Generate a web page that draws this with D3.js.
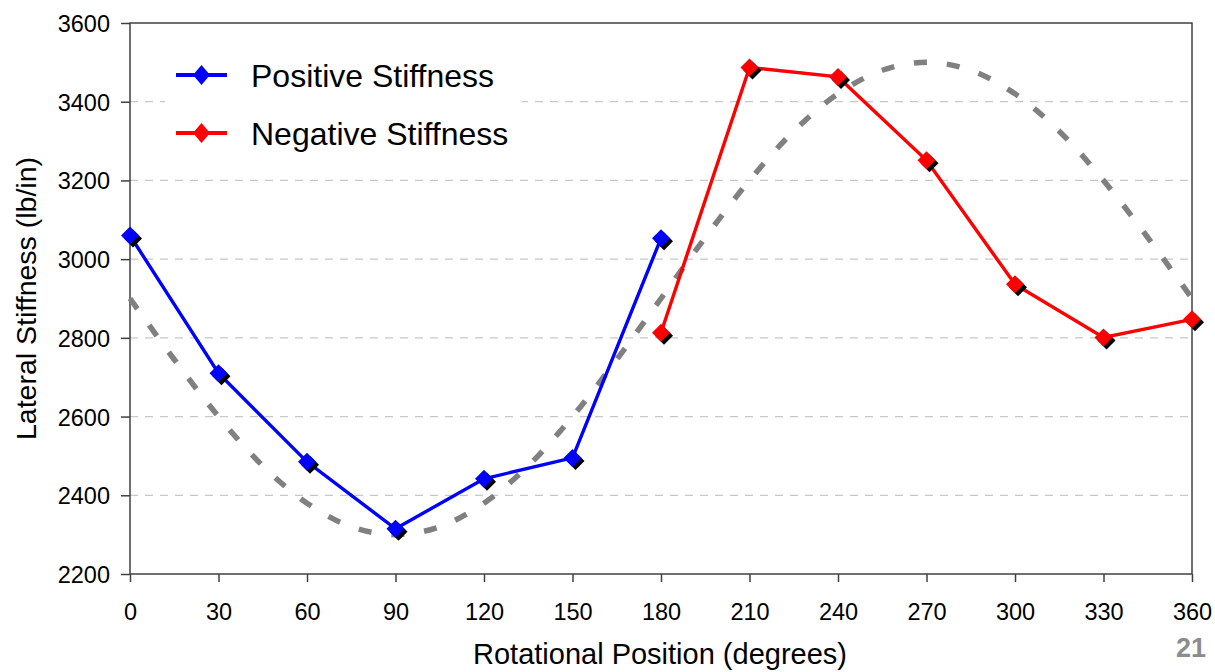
<!DOCTYPE html>
<html>
<head>
<meta charset="utf-8">
<script src="https://cdn.jsdelivr.net/npm/d3@7"></script>
<style>
  body { margin: 0; background: #fff; }
  svg text { font-family: "Liberation Sans", Arial, sans-serif; fill: #000; }
</style>
</head>
<body>
<svg id="chart"></svg>
<script>
// data
const xTicks = [0, 30, 60, 90, 120, 150, 180, 210, 240, 270, 300, 330, 360];
const yTicks = [2200, 2400, 2600, 2800, 3000, 3200, 3400, 3600];

const positiveAngles = [0, 30, 60, 90, 120, 150, 180];
const positiveValues = [3060, 2710, 2485, 2315, 2442, 2495, 3053];

const negativeAngles = [180, 210, 240, 270, 300, 330, 360];
const negativeValues = [2813, 3487, 3463, 3251, 2936, 2801, 2847];

// dashed reference curve, every 15 degrees
const refAngles = [0, 15, 30, 45, 60, 75, 90, 105, 120, 135, 150, 165, 180,
                   195, 210, 225, 240, 255, 270, 285, 300, 315, 330, 345, 360];
const refValues = [2900, 2745, 2600, 2475, 2380, 2320, 2300, 2320, 2380, 2475, 2600, 2745, 2900,
                   3055, 3200, 3325, 3420, 3480, 3500, 3480, 3420, 3325, 3200, 3055, 2900];

const seriesNames = ['Positive Stiffness', 'Negative Stiffness'];
const seriesColors = ['#0000ff', '#ff0000'];

const config = {
    width: 1215,
    height: 672,
    margin: {top: 23, right: 23, bottom: 98, left: 130}
};

const svg = d3.select('#chart')
    .attr('width', config.width)
    .attr('height', config.height);

const width = config.width - config.margin.left - config.margin.right;
const height = config.height - config.margin.top - config.margin.bottom;

const chart = svg.append('g')
    .attr('transform', `translate(${config.margin.left},${config.margin.top})`);

const xScale = d3.scaleLinear().domain([0, 360]).range([0, width]);
const yScale = d3.scaleLinear().domain([2200, 3600]).range([height, 0]);

// gridlines
chart.append('g')
    .selectAll('line')
    .data(yTicks.filter(d => d > 2200 && d < 3600))
    .join('line')
    .attr('x1', 0)
    .attr('x2', width)
    .attr('y1', d => yScale(d))
    .attr('y2', d => yScale(d))
    .attr('stroke', '#c8c8c8')
    .attr('stroke-width', 1.2)
    .attr('stroke-dasharray', '8,7');

// axes
const xAxis = d3.axisBottom(xScale).tickValues(xTicks).tickFormat(d3.format('d'))
    .tickSize(8).tickPadding(20).tickSizeOuter(0);
const yAxis = d3.axisLeft(yScale).tickValues(yTicks).tickFormat(d3.format('d'))
    .tickSize(9).tickPadding(11).tickSizeOuter(0);

const xAxisG = chart.append('g')
    .attr('transform', `translate(0,${height})`)
    .call(xAxis);
const yAxisG = chart.append('g').call(yAxis);

[xAxisG, yAxisG].forEach(g => {
    g.select('.domain').remove();
    g.selectAll('line').attr('stroke', '#404040').attr('stroke-width', 1.5);
    g.selectAll('text').style('font-size', '23.5px').attr('fill', '#000');
});
xAxisG.selectAll('text').attr('y', 29).attr('dy', '0.71em');
yAxisG.selectAll('text').attr('dy', '0.36em');

// frame
chart.append('rect')
    .attr('width', width)
    .attr('height', height)
    .attr('fill', 'none')
    .attr('stroke', '#404040')
    .attr('stroke-width', 1.5);

// legend background hides the gridline behind it
chart.append('rect')
    .attr('x', 35)
    .attr('y', 16)
    .attr('width', 357)
    .attr('height', 130)
    .attr('fill', '#fff');

// reference curve
const refData = refAngles.map((a, i) => ({x: a, y: refValues[i]}));
chart.append('path')
    .datum(refData)
    .attr('fill', 'none')
    .attr('stroke', '#808080')
    .attr('stroke-width', 5.5)
    .attr('stroke-dasharray', '13,20')
    .attr('d', d3.line().x(d => xScale(d.x)).y(d => yScale(d.y)).curve(d3.curveCatmullRom));

const series = [
    positiveAngles.map((a, i) => ({x: a, y: positiveValues[i]})),
    negativeAngles.map((a, i) => ({x: a, y: negativeValues[i]}))
];

const diamond = (w, h) => `M0,${-h} L${w},0 L0,${h} L${-w},0 Z`;

series.forEach((data, k) => {
    const g = chart.append('g');
    g.append('path')
        .datum(data)
        .attr('fill', 'none')
        .attr('stroke', seriesColors[k])
        .attr('stroke-width', 3.4)
        .attr('d', d3.line().x(d => xScale(d.x)).y(d => yScale(d.y)));

    // marker shadow
    g.selectAll('.shadow')
        .data(data)
        .join('path')
        .attr('class', 'shadow')
        .attr('transform', d => `translate(${xScale(d.x) + 3},${yScale(d.y) + 3})`)
        .attr('d', diamond(9, 9))
        .attr('fill', '#000');

    g.selectAll('.marker')
        .data(data)
        .join('path')
        .attr('class', 'marker')
        .attr('transform', d => `translate(${xScale(d.x)},${yScale(d.y)})`)
        .attr('d', diamond(9, 9))
        .attr('fill', seriesColors[k]);
});

// legend
const legend = chart.append('g')
    .attr('transform', 'translate(46,52)');
seriesNames.forEach((name, i) => {
    const row = legend.append('g').attr('transform', `translate(0,${i * 58})`);
    row.append('line')
        .attr('x1', 0).attr('x2', 51)
        .attr('stroke', seriesColors[i])
        .attr('stroke-width', 3.8);
    row.append('path')
        .attr('transform', 'translate(25.5,0)')
        .attr('d', diamond(8.5, 10))
        .attr('fill', seriesColors[i]);
    row.append('text')
        .attr('x', 75)
        .attr('dy', '0.36em')
        .style('font-size', '32px')
        .text(name);
});

// axis titles
svg.append('text')
    .attr('transform', `translate(36,${config.margin.top + height / 2}) rotate(-90)`)
    .attr('text-anchor', 'middle')
    .style('font-size', '28.5px')
    .text('Lateral Stiffness (lb/in)');

svg.append('text')
    .attr('x', 660)
    .attr('y', 664)
    .attr('text-anchor', 'middle')
    .style('font-size', '29px')
    .text('Rotational Position (degrees)');

// page number
svg.append('text')
    .attr('x', 1206)
    .attr('y', 657)
    .attr('text-anchor', 'end')
    .style('font-size', '27px')
    .style('font-weight', 'bold')
    .style('fill', '#8c8c8c')
    .text('21');
</script>
</body>
</html>
